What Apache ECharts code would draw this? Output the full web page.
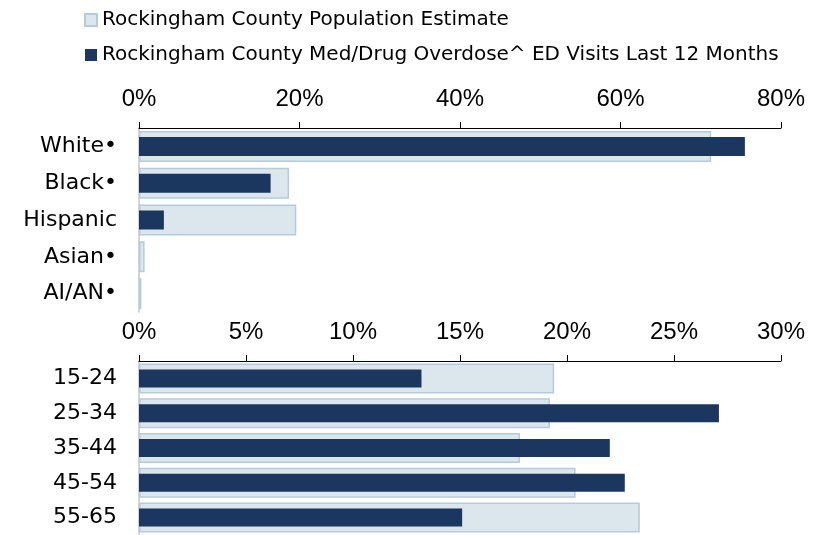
<!DOCTYPE html>
<html>
<head>
<meta charset="utf-8">
<script src="https://cdn.jsdelivr.net/npm/echarts@6/dist/echarts.min.js"></script>
<style>
  html, body { margin: 0; padding: 0; background: #fff; }
  #chart { width: 825px; height: 535px; }
</style>
</head>
<body>
<div id="chart"></div>
<script>
// race / ethnicity panel
const raceCats = ['White•', 'Black•', 'Hispanic', 'Asian•', 'AI/AN•'];
const racePop = [71.3, 18.7, 19.6, 0.7, 0.3];
const raceOd = [75.5, 16.4, 3.1, 0, 0];
// age panel
const ageCats = ['15-24', '25-34', '35-44', '45-54', '55-65'];
const agePop = [19.4, 19.2, 17.8, 20.4, 23.4];
const ageOd = [13.2, 27.1, 22.0, 22.7, 15.1];

const popName = 'Rockingham County Population Estimate';
const odName = 'Rockingham County Med/Drug Overdose^ ED Visits Last 12 Months';

const font = 'Liberation Sans, Arial, sans-serif';
const wideFont = 'DejaVu Sans, sans-serif';
const popStyle = { color: '#dce6ed', borderColor: '#b5cbd9', borderWidth: 1.5 };
const odStyle = { color: '#1b375f', borderWidth: 0 };

function xAxis(grid, max, step) {
  return {
    type: 'value', gridIndex: grid, position: 'top', min: 0, max: max, interval: step,
    axisLine: { show: true, lineStyle: { color: '#000', width: 1 } },
    axisTick: { show: true, length: 6, lineStyle: { color: '#000' } },
    splitLine: { show: false },
    axisLabel: { formatter: '{value}%', fontSize: 24, color: '#000', fontFamily: font, margin: 17 }
  };
}
function yAxis(grid, cats, visible) {
  return {
    type: 'category', gridIndex: grid, data: cats, inverse: true, show: visible,
    axisLine: { show: true, lineStyle: { color: '#d4d4d4', width: 2 } },
    axisTick: { show: false },
    axisLabel: { fontSize: 22, color: '#000', fontFamily: wideFont, margin: 22 }
  };
}

const chart = echarts.init(document.getElementById('chart'));
chart.setOption({
  animation: false,
  textStyle: { fontFamily: font },
  legend: {
    orient: 'vertical', left: 79, top: 5, itemGap: 15, icon: 'rect',
    itemWidth: 12, itemHeight: 12,
    textStyle: { fontSize: 20, color: '#000', fontFamily: wideFont },
    data: [popName, odName]
  },
  grid: [
    { left: 139, right: 44, top: 128, height: 184 },
    { left: 139, right: 44, top: 361, height: 178 }
  ],
  xAxis: [xAxis(0, 80, 20), xAxis(1, 30, 5)],
  yAxis: [
    yAxis(0, raceCats, true), yAxis(0, raceCats, false),
    yAxis(1, ageCats, true), yAxis(1, ageCats, false)
  ],
  series: [
    { name: popName, type: 'bar', xAxisIndex: 0, yAxisIndex: 0, data: racePop, barWidth: 31, itemStyle: popStyle },
    { name: odName, type: 'bar', xAxisIndex: 0, yAxisIndex: 1, data: raceOd, barWidth: 19, itemStyle: odStyle, z: 3 },
    { name: popName, type: 'bar', xAxisIndex: 1, yAxisIndex: 2, data: agePop, barWidth: 30, itemStyle: popStyle },
    { name: odName, type: 'bar', xAxisIndex: 1, yAxisIndex: 3, data: ageOd, barWidth: 18, itemStyle: odStyle, z: 3 }
  ]
});
</script>
</body>
</html>
